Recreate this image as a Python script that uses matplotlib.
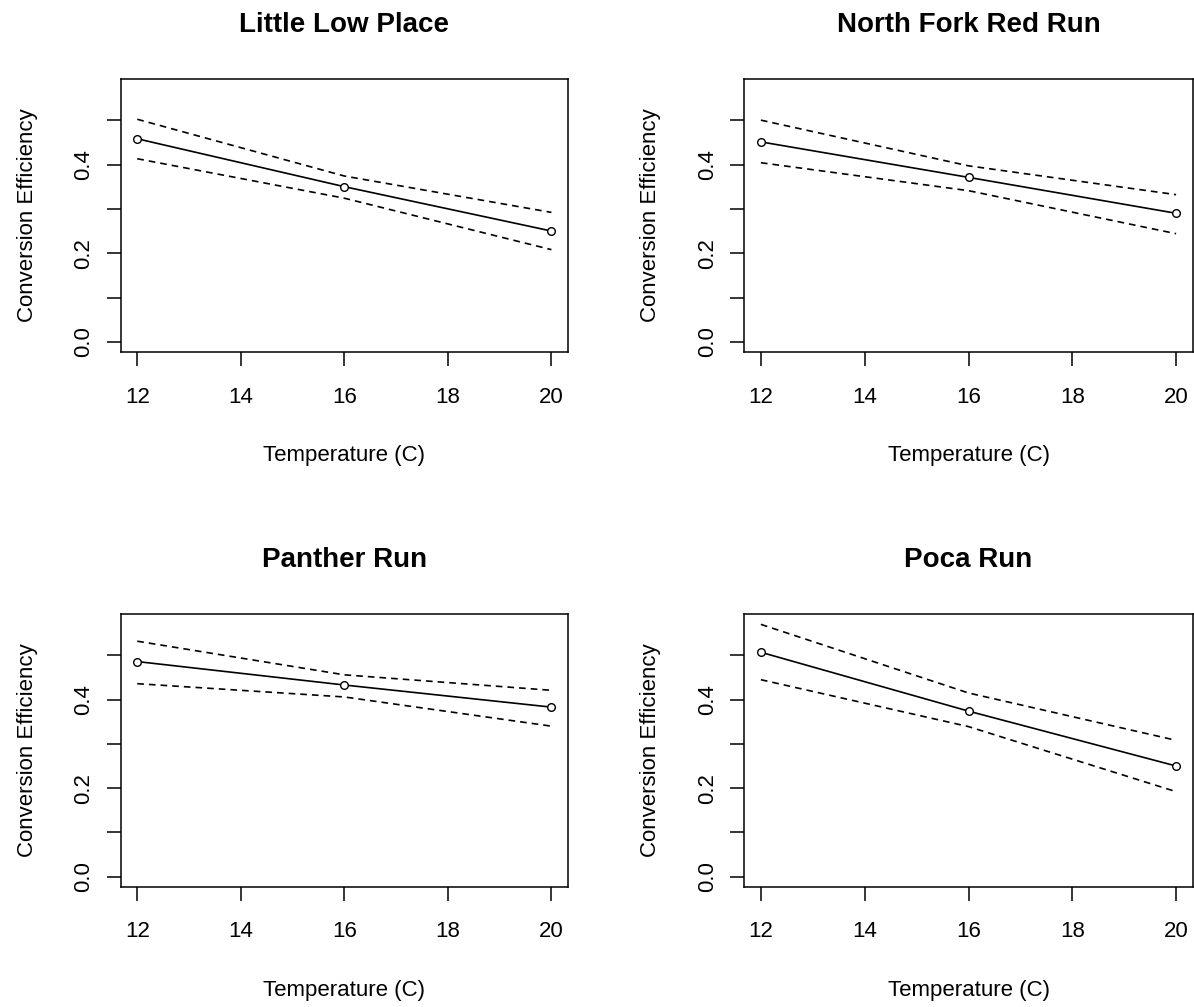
import numpy as np
import matplotlib.pyplot as plt

plt.rcParams['font.family'] = ['Liberation Sans', 'DejaVu Sans']

# predicted conversion efficiency with confidence bands, one stream per panel
temps = [12, 16, 20]
streams = ["Little Low Place", "North Fork Red Run", "Panther Run", "Poca Run"]

fit_llp = [0.458, 0.350, 0.250]
upper_llp = [0.502, 0.374, 0.292]
lower_llp = [0.413, 0.324, 0.208]

fit_nfr = [0.451, 0.371, 0.290]
upper_nfr = [0.500, 0.397, 0.332]
lower_nfr = [0.404, 0.341, 0.244]

fit_pan = [0.486, 0.433, 0.383]
upper_pan = [0.532, 0.456, 0.421]
lower_pan = [0.436, 0.406, 0.340]

fit_poca = [0.507, 0.374, 0.250]
upper_poca = [0.570, 0.415, 0.308]
lower_poca = [0.445, 0.339, 0.192]

xticks = [12, 14, 16, 18, 20]
yticks = [0.0, 0.1, 0.2, 0.3, 0.4, 0.5]
ytick_labels = ["0.0", "", "0.2", "", "0.4", ""]

series = [
    (fit_llp, upper_llp, lower_llp),
    (fit_nfr, upper_nfr, lower_nfr),
    (fit_pan, upper_pan, lower_pan),
    (fit_poca, upper_poca, lower_poca),
]

W, H = 1194, 1007
fig = plt.figure(figsize=(W / 100, H / 100), dpi=100)

# panel boxes in pixels: left, top, right, bottom
boxes = [
    (120.7, 79, 568, 352),
    (744.3, 79, 1192.7, 352),
    (120.7, 614.3, 568, 886.7),
    (744.3, 614.3, 1192.7, 886.7),
]

ymax = max(max(s[1]) for s in series)
xpad = 0.04 * (max(temps) - min(temps))

for name, (fit, upper, lower), (l, t, r, b) in zip(streams, series, boxes):
    ax = fig.add_axes([l / W, 1 - b / H, (r - l) / W, (b - t) / H])
    ax.plot(temps, fit, color='black', lw=1.2, marker='o', ms=5.5,
            mfc='white', mec='black', mew=1.0)
    ax.plot(temps, upper, color='black', lw=1.2, linestyle=(0, (4, 3)))
    ax.plot(temps, lower, color='black', lw=1.2, linestyle=(0, (4, 3)))

    ax.set_xlim(min(temps) - xpad, max(temps) + xpad)
    ax.set_ylim(-0.04 * ymax, 1.04 * ymax)
    ax.set_xticks(xticks)
    ax.set_yticks(yticks)
    ax.set_yticklabels(ytick_labels, rotation=90, va='center')
    ax.tick_params(direction='out', length=10, width=1.1, labelsize=16,
                   colors='black')
    ax.tick_params(axis='x', pad=15)
    ax.tick_params(axis='y', pad=9)
    for sp in ax.spines.values():
        sp.set_linewidth(1.1)

    ax.set_title(name, fontsize=20, fontweight='bold', pad=34)
    ax.set_xlabel("Temperature (C)", fontsize=16, va='baseline')
    ax.xaxis.set_label_coords(0.5, -0.40)
    ax.set_ylabel("Conversion Efficiency", fontsize=16)
    ax.yaxis.set_label_coords(-0.185, 0.5)

fig.savefig("out.png", dpi=100, facecolor='white')
